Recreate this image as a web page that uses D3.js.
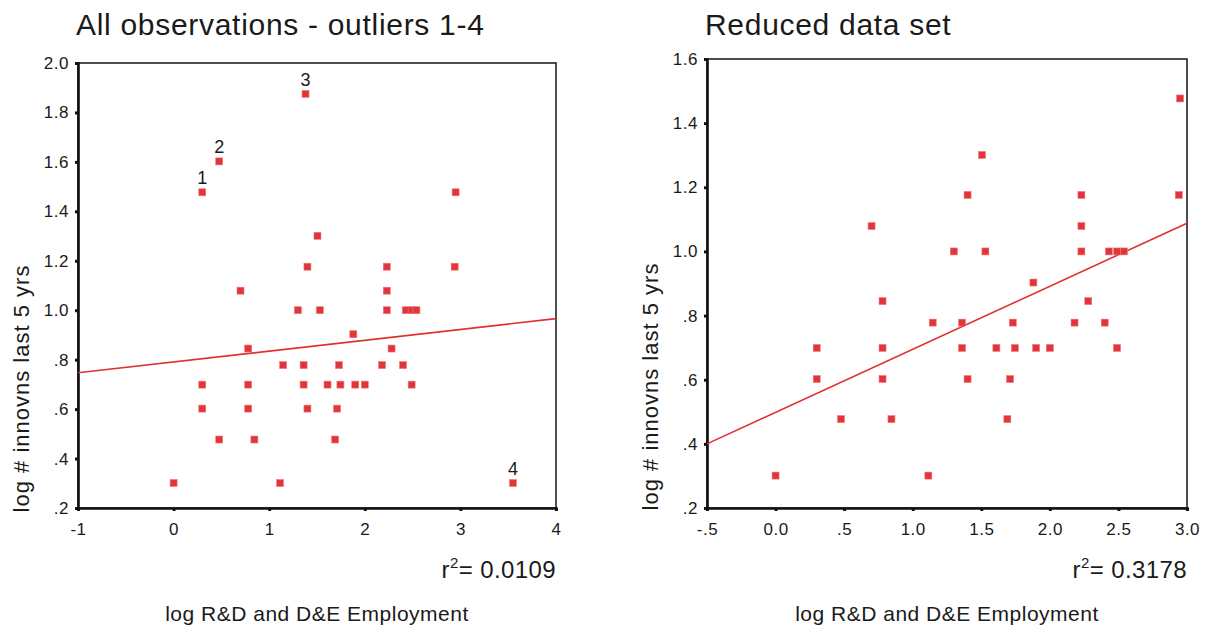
<!DOCTYPE html>
<html>
<head>
<meta charset="utf-8">
<script src="https://cdn.jsdelivr.net/npm/d3@7"></script>
<style>
  body { margin: 0; background: #fff; }
  svg text { font-family: "Liberation Sans", Arial, sans-serif; fill: #1a1a1a; }
</style>
</head>
<body>
<script>
"use strict";

// reduced data set (log R&D and D&E employment, log # innovations)
var reducedX = [0.00, 0.30, 0.30, 0.477, 0.70, 0.78, 0.78, 0.78, 0.845, 1.114,
                1.146, 1.30, 1.36, 1.36, 1.40, 1.40, 1.505, 1.53, 1.61, 1.69,
                1.71, 1.73, 1.745, 1.88, 1.90, 2.00, 2.18, 2.23, 2.23, 2.23,
                2.28, 2.40, 2.43, 2.49, 2.49, 2.54, 2.94, 2.95];
var reducedY = [0.301, 0.699, 0.602, 0.477, 1.079, 0.845, 0.699, 0.602, 0.477, 0.301,
                0.778, 1.000, 0.778, 0.699, 0.602, 1.176, 1.301, 1.000, 0.699, 0.477,
                0.602, 0.778, 0.699, 0.903, 0.699, 0.699, 0.778, 1.000, 1.079, 1.176,
                0.845, 0.778, 1.000, 1.000, 0.699, 1.000, 1.176, 1.477];

// outliers 1-4 (only in the first panel)
var outlierX = [0.30, 0.477, 1.38, 3.55];
var outlierY = [1.477, 1.602, 1.875, 0.301];
var outlierLabels = ["1", "2", "3", "4"];

// fitted lines, endpoints
var fitAll = [[-1, 0.747], [4, 0.966]];
var fitReduced = [[-0.5, 0.400], [3.0, 1.088]];

var r2All = "0.0109";
var r2Reduced = "0.3178";

// ticks
var xTicksAll = [-1, 0, 1, 2, 3, 4];
var xLabelsAll = ["-1", "0", "1", "2", "3", "4"];
var yTicksAll = [0.2, 0.4, 0.6, 0.8, 1.0, 1.2, 1.4, 1.6, 1.8, 2.0];
var yLabelsAll = [".2", ".4", ".6", ".8", "1.0", "1.2", "1.4", "1.6", "1.8", "2.0"];
var xTicksRed = [-0.5, 0, 0.5, 1.0, 1.5, 2.0, 2.5, 3.0];
var xLabelsRed = ["-.5", "0.0", ".5", "1.0", "1.5", "2.0", "2.5", "3.0"];
var yTicksRed = [0.2, 0.4, 0.6, 0.8, 1.0, 1.2, 1.4, 1.6];
var yLabelsRed = [".2", ".4", ".6", ".8", "1.0", "1.2", "1.4", "1.6"];

var width = 1219, height = 633;

var svg = d3.select("body").append("svg")
    .attr("width", width)
    .attr("height", height);

function drawPanel(p) {
  var x = d3.scaleLinear().domain(p.xDomain).range([p.left, p.right]);
  var y = d3.scaleLinear().domain(p.yDomain).range([p.bottom, p.top]);
  var g = svg.append("g");

  // title
  g.append("text")
    .attr("x", p.left - 2)
    .attr("y", 35)
    .style("font-size", "30px")
    .style("letter-spacing", "0.7px")
    .text(p.title);

  // frame (top / right thinner)
  g.append("rect")
    .attr("x", p.left).attr("y", p.top)
    .attr("width", p.right - p.left).attr("height", p.bottom - p.top)
    .attr("fill", "none")
    .attr("stroke", "#222")
    .attr("stroke-width", 1.6);

  // axes
  var xAxis = d3.axisBottom(x)
    .tickValues(p.xTicks)
    .tickSize(3)
    .tickPadding(12)
    .tickFormat(function(d, i) { return p.xLabels[i]; });
  var yAxis = d3.axisLeft(y)
    .tickValues(p.yTicks)
    .tickSize(3)
    .tickPadding(6)
    .tickFormat(function(d, i) { return p.yLabels[i]; });

  var gx = g.append("g").attr("transform", "translate(0," + p.bottom + ")").call(xAxis);
  var gy = g.append("g").attr("transform", "translate(" + p.left + ",0)").call(yAxis);
  [gx, gy].forEach(function(a) {
    a.select(".domain").attr("stroke", "#111").attr("stroke-width", 2.6);
    a.selectAll(".tick line").attr("stroke", "#111").attr("stroke-width", 3);
    a.selectAll(".tick text")
      .style("font-size", "17px")
      .style("letter-spacing", "0.5px")
      .attr("fill", "#1a1a1a");
  });

  // axis titles
  g.append("text")
    .attr("transform", "translate(" + (p.left - 49) + "," + ((p.top + p.bottom) / 2 + 103) + ") rotate(-90)")
    .attr("text-anchor", "middle")
    .style("font-size", "22px")
    .style("letter-spacing", "1px")
    .text("log # innovns last 5 yrs");

  g.append("text")
    .attr("x", (p.left + p.right) / 2)
    .attr("y", 621)
    .attr("text-anchor", "middle")
    .style("font-size", "21px")
    .style("letter-spacing", "0.5px")
    .text("log R&D and D&E Employment");

  // r squared
  var r2 = g.append("text")
    .attr("x", p.right)
    .attr("y", 578)
    .attr("text-anchor", "end")
    .style("font-size", "24px")
    .style("letter-spacing", "0.4px");
  r2.append("tspan").text("r");
  r2.append("tspan").attr("dy", -10).style("font-size", "15px").text("2");
  r2.append("tspan").attr("dy", 10).text("= " + p.r2);

  // fit line
  g.append("line")
    .attr("x1", x(p.fit[0][0])).attr("y1", y(p.fit[0][1]))
    .attr("x2", x(p.fit[1][0])).attr("y2", y(p.fit[1][1]))
    .attr("stroke", "#e03030")
    .attr("stroke-width", 1.6);

  // points
  var pts = p.xs.map(function(v, i) { return [v, p.ys[i]]; });
  g.selectAll("rect.pt").data(pts).enter().append("rect")
    .attr("class", "pt")
    .attr("x", function(d) { return x(d[0]) - 3.5; })
    .attr("y", function(d) { return y(d[1]) - 3.5; })
    .attr("width", 7).attr("height", 7)
    .attr("fill", "#e0353a")
    .attr("stroke", "#f07a7a")
    .attr("stroke-width", 0.6);

  if (p.labels) {
    g.selectAll("text.lab").data(p.labels).enter().append("text")
      .attr("class", "lab")
      .attr("x", function(d, i) { return x(p.xs[p.xs.length - p.labels.length + i]); })
      .attr("y", function(d, i) { return y(p.ys[p.ys.length - p.labels.length + i]) - 8; })
      .attr("text-anchor", "middle")
      .style("font-size", "18px")
      .text(function(d) { return d; });
  }
}

drawPanel({
  title: "All observations - outliers 1-4",
  xDomain: [-1, 4], yDomain: [0.2, 2.0],
  left: 78, right: 556, top: 63, bottom: 508,
  xTicks: xTicksAll, xLabels: xLabelsAll,
  yTicks: yTicksAll, yLabels: yLabelsAll,
  xs: reducedX.concat(outlierX),
  ys: reducedY.concat(outlierY),
  labels: outlierLabels,
  fit: fitAll,
  r2: r2All
});

drawPanel({
  title: "Reduced data set",
  xDomain: [-0.5, 3.0], yDomain: [0.2, 1.6],
  left: 707, right: 1187, top: 59, bottom: 508,
  xTicks: xTicksRed, xLabels: xLabelsRed,
  yTicks: yTicksRed, yLabels: yLabelsRed,
  xs: reducedX, ys: reducedY,
  fit: fitReduced,
  r2: r2Reduced
});
</script>
</body>
</html>
